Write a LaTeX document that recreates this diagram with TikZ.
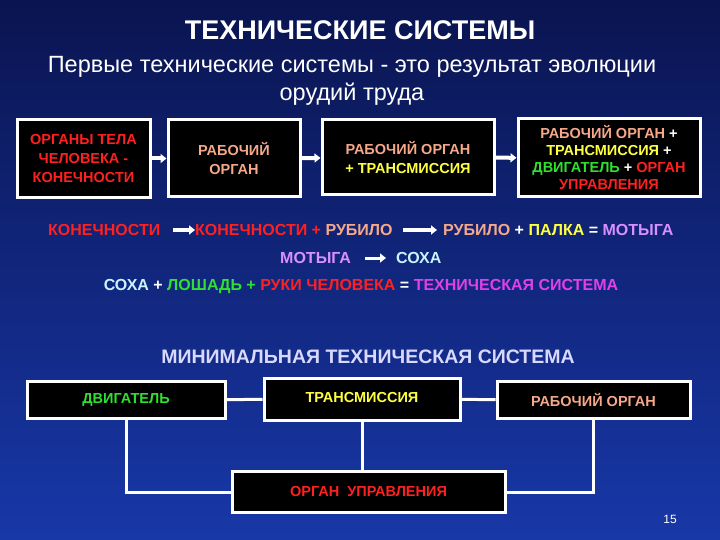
\documentclass[tikz,border=0pt]{standalone}
\usepackage{fontspec}
\setmainfont{Liberation Sans}
\usetikzlibrary{arrows.meta}
\definecolor{cred}{HTML}{FF2020}
\definecolor{cpeach}{HTML}{F6A888}
\definecolor{cyel}{HTML}{FFFF40}
\definecolor{cgreen}{HTML}{30E030}
\definecolor{cviol}{HTML}{D890FF}
\definecolor{ccyan}{HTML}{C8F4FF}
\definecolor{cmag}{HTML}{E040E8}
\definecolor{bgtop}{HTML}{0A1450}
\definecolor{bgbot}{HTML}{1838A8}
\tikzset{
 bx/.style={draw=white,line width=3pt,fill=black,font=\bfseries\fontsize{14.5}{19}\selectfont,align=center,inner sep=0pt},
 arr/.style={white,line width=3pt,-{Triangle[length=6pt,width=9pt]}},
 ln/.style={white,line width=3pt},
 txt/.style={font=\bfseries\fontsize{16}{18}\selectfont,inner sep=0pt}
}
\begin{document}
\begin{tikzpicture}[x=1pt,y=-1pt]
\shade[top color=bgtop,bottom color=bgbot] (0,0) rectangle (720,540);
\useasboundingbox (0,0) rectangle (720,540);
\node[white,font=\bfseries\fontsize{27}{30}\selectfont] (t) at (360,30) {ТЕХНИЧЕСКИЕ СИСТЕМЫ};
\node[white,font=\fontsize{23.5}{28}\selectfont,align=center] (st) at (352,81) {Первые технические системы - это результат эволюции\\орудий труда};
\node[bx,minimum width=133,minimum height=78,text=cred] (a1) at (83.5,158.5) {ОРГАНЫ ТЕЛА\\ЧЕЛОВЕКА -\\КОНЕЧНОСТИ};
\node[bx,minimum width=132,minimum height=77,text=cpeach] (a2) at (234,158.5) {РАБОЧИЙ\\ОРГАН};
\node[bx,minimum width=172,minimum height=75,text=cpeach] (a3) at (408,157.5) {РАБОЧИЙ ОРГАН\\\textcolor{cyel}{+ ТРАНСМИССИЯ}};
\node[bx,minimum width=182,minimum height=78,text=cpeach,font=\bfseries\fontsize{14.5}{17}\selectfont] (a4) at (609,158) {РАБОЧИЙ ОРГАН \textcolor{white}{+}\\\textcolor{cyel}{ТРАНСМИССИЯ} \textcolor{white}{+}\\\textcolor{cgreen}{ДВИГАТЕЛЬ} \textcolor{white}{+} \textcolor{cred}{ОРГАН}\\\textcolor{cred}{УПРАВЛЕНИЯ}};
\draw[arr,line width=4pt] (a1) -- (a2);
\draw[arr,line width=4pt] (a2) -- (a3);
\draw[arr,line width=4pt] (a3) -- (a4);
\node[txt,text=cred,anchor=west] (r1) at (48,230) {КОНЕЧНОСТИ};
\node[txt,anchor=west] (r2) at (195,230) {\textcolor{cred}{КОНЕЧНОСТИ + }\textcolor{cpeach}{РУБИЛО}};
\node[txt,anchor=west] (r3) at (443,230) {\textcolor{cpeach}{РУБИЛО} \textcolor{white}{+} \textcolor{cyel}{ПАЛКА} \textcolor{white}{=} \textcolor{cviol}{МОТЫГА}};
\draw[arr] ([xshift=12pt]r1.east) -- (r2.west);
\draw[arr] ([xshift=10pt]r2.east) -- ([xshift=-6pt]r3.west);
\node[txt,text=cviol,anchor=west] (m1) at (280,258) {МОТЫГА};
\node[txt,text=ccyan,anchor=west] (m2) at (396,258) {СОХА};
\draw[arr] ([xshift=14pt]m1.east) -- ([xshift=-10pt]m2.west);
\node[txt] (s) at (361,287) {\textcolor{ccyan}{СОХА} \textcolor{white}{+} \textcolor{cgreen}{ЛОШАДЬ +} \textcolor{cred}{РУКИ ЧЕЛОВЕКА} \textcolor{white}{=} \textcolor{cmag}{ТЕХНИЧЕСКАЯ СИСТЕМА}};
\node[text=white!85!blue,font=\bfseries\fontsize{19.5}{22}\selectfont] (mt) at (368,357) {МИНИМАЛЬНАЯ ТЕХНИЧЕСКАЯ СИСТЕМА};
\node[bx,minimum width=198,minimum height=37,text=cgreen] (b1) at (126,400) {ДВИГАТЕЛЬ};
\node[bx,minimum width=196,minimum height=42] (b2) at (362,399) {};
\node[bx,draw=none,fill=none,text=cyel] (b2t) at (362,398) {ТРАНСМИССИЯ};
\node[bx,minimum width=193,minimum height=37,text=cpeach] (b3) at (593.5,400) {РАБОЧИЙ ОРГАН};
\node[bx,minimum width=273,minimum height=41,text=cred] (b4) at (368.5,492) {ОРГАН\ \ УПРАВЛЕНИЯ};
\draw[ln] (b1) -- (b2);
\draw[ln] (b2) -- (b3);
\draw[ln] (b2.south) -- (b2.south |- b4.north);
\draw[ln] (b1.south) |- (b4.west);
\draw[ln] (b3.south) |- (b4.east);
\node[white,font=\fontsize{12}{14}\selectfont] (pg) at (670,519) {15};
\end{tikzpicture}
\end{document}
